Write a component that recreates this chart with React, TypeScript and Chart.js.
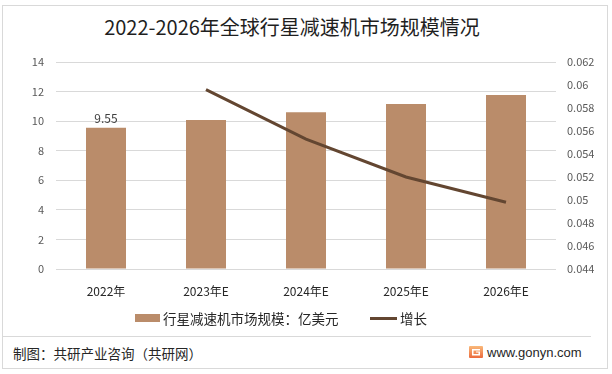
import React, { useEffect, useRef } from "react";
import { Chart, registerables } from "chart.js";

Chart.register(...registerables);

const categories = ["2022年", "2023年E", "2024年E", "2025年E", "2026年E"];
const marketSize = [9.55, 10.07, 10.6, 11.16, 11.76];
const growth = [null, 0.0596, 0.0553, 0.052, 0.0498];
const leftTicks = [0, 2, 4, 6, 8, 10, 12, 14];
const rightTicks = [0.044, 0.046, 0.048, 0.05, 0.052, 0.054, 0.056, 0.058, 0.06, 0.062];
const titleText = "2022-2026年全球行星减速机市场规模情况";
const barLabel = "行星减速机市场规模：亿美元";
const lineLabel = "增长";
const sourceText = "制图：共研产业咨询（共研网）";
const siteText = "www.gonyn.com";

const BAR_COLOR = "#BA8C6A";
const LINE_COLOR = "#634631";
const CJK = "'Noto Sans CJK SC', 'Noto Sans', sans-serif";

const firstLabelPlugin = {
  id: "firstLabel",
  afterDatasetsDraw(chart: any) {
    const meta = chart.getDatasetMeta(0);
    const el = meta.data[0];
    if (!el) return;
    const ctx = chart.ctx;
    ctx.save();
    ctx.font = "12px " + CJK;
    ctx.fillStyle = "#404040";
    ctx.textAlign = "center";
    ctx.textBaseline = "bottom";
    ctx.fillText(String(marketSize[0]), el.x, el.y - 3);
    ctx.restore();
  },
};

export default function App() {
  const ref = useRef<HTMLCanvasElement | null>(null);

  useEffect(() => {
    if (!ref.current) return;
    const chart = new Chart(ref.current, {
      type: "bar",
      data: {
        labels: categories,
        datasets: [
          {
            type: "bar",
            label: barLabel,
            data: marketSize,
            backgroundColor: BAR_COLOR,
            barPercentage: 0.4,
            categoryPercentage: 1,
            yAxisID: "y",
            order: 2,
          },
          {
            type: "line",
            label: lineLabel,
            data: growth as any,
            borderColor: LINE_COLOR,
            backgroundColor: LINE_COLOR,
            borderWidth: 3,
            pointRadius: 0,
            tension: 0,
            yAxisID: "y1",
            order: 1,
          },
        ],
      },
      options: {
        animation: false,
        responsive: false,
        maintainAspectRatio: false,
        layout: { padding: { top: 62, left: 0, right: 0, bottom: 0 } },
        plugins: {
          legend: { display: false },
          title: { display: false },
          tooltip: { enabled: false },
        },
        scales: {
          x: {
            grid: { display: false, drawTicks: false },
            border: { display: false },
            ticks: {
              color: "#262626",
              font: { size: 12, family: CJK },
              padding: 15,
            },
            afterFit(scale: any) {
              scale.height = 67;
            },
          },
          y: {
            position: "left",
            min: 0,
            max: 14,
            afterBuildTicks(scale: any) {
              scale.ticks = leftTicks.map((v) => ({ value: v }));
            },
            grid: { color: "#D9D9D9", lineWidth: 1, drawTicks: false },
            border: { display: false },
            ticks: {
              color: "#595959",
              font: { size: 11, family: CJK },
              padding: 12,
            },
            afterFit(scale: any) {
              scale.width = 56;
            },
          },
          y1: {
            position: "right",
            min: 0.044,
            max: 0.062,
            afterBuildTicks(scale: any) {
              scale.ticks = rightTicks.map((v) => ({ value: v }));
            },
            grid: { display: false, drawTicks: false },
            border: { display: false },
            ticks: {
              color: "#595959",
              font: { size: 11, family: CJK },
              padding: 11,
              callback: (v: any) => String(Number(Number(v).toFixed(3))),
            },
            afterFit(scale: any) {
              scale.width = 56;
            },
          },
        },
      },
      plugins: [firstLabelPlugin],
    } as any);
    return () => chart.destroy();
  }, []);

  return (
    <div
      style={{
        position: "absolute",
        left: 0,
        top: 0,
        width: 612,
        height: 374,
        background: "#fff",
        overflow: "hidden",
        fontFamily: CJK,
      }}
    >
      <div
        style={{
          position: "absolute",
          left: 2,
          top: 5,
          width: 606,
          height: 364,
          boxSizing: "border-box",
          border: "1px solid #D9D9D9",
        }}
      />
      <div
        style={{
          position: "absolute",
          left: 0,
          top: 14,
          width: 584,
          textAlign: "center",
          fontSize: 20,
          lineHeight: "26px",
          color: "#1F1F1F",
          whiteSpace: "nowrap",
        }}
      >
        {titleText}
      </div>
      <canvas
        ref={ref}
        width={612}
        height={336}
        style={{ position: "absolute", left: 0, top: 0, width: 612, height: 336 }}
      />
      {/* legend */}
      <div style={{ position: "absolute", left: 135, top: 314, width: 25, height: 8, background: BAR_COLOR }} />
      <div
        style={{
          position: "absolute",
          left: 163,
          top: 309,
          fontSize: 13.5,
          lineHeight: "18px",
          color: "#262626",
          whiteSpace: "nowrap",
        }}
      >
        {barLabel}
      </div>
      <div style={{ position: "absolute", left: 370, top: 317, width: 27, height: 3, background: LINE_COLOR }} />
      <div
        style={{
          position: "absolute",
          left: 400,
          top: 309,
          fontSize: 13.5,
          lineHeight: "18px",
          color: "#262626",
          whiteSpace: "nowrap",
        }}
      >
        {lineLabel}
      </div>
      {/* footer */}
      <div style={{ position: "absolute", left: 3, top: 336, width: 588, height: 1, background: "#D9D9D9" }} />
      <div
        style={{
          position: "absolute",
          left: 13,
          top: 344,
          fontSize: 13.5,
          lineHeight: "18px",
          color: "#262626",
          whiteSpace: "nowrap",
        }}
      >
        {sourceText}
      </div>
      <svg
        width={14}
        height={12}
        viewBox="0 0 14 12"
        style={{ position: "absolute", left: 469, top: 346 }}
      >
        <defs>
          <linearGradient id="lg" x1="0" y1="0" x2="0" y2="1">
            <stop offset="0" stopColor="#F9B97A" />
            <stop offset="1" stopColor="#EC6A3C" />
          </linearGradient>
        </defs>
        <rect x="0" y="0" width="14" height="12" rx="1" fill="url(#lg)" />
        <path d="M3 3 H11 V4.5 H4.5 V8 H9.5 V6.5 H7 V5.5 H11 V9.5 H3 Z" fill="#fff" />
      </svg>
      <div
        style={{
          position: "absolute",
          left: 487,
          top: 344,
          fontSize: 13,
          lineHeight: "18px",
          color: "#262626",
          fontFamily: "'Liberation Sans', Arial, sans-serif",
          whiteSpace: "nowrap",
        }}
      >
        {siteText}
      </div>
    </div>
  );
}
